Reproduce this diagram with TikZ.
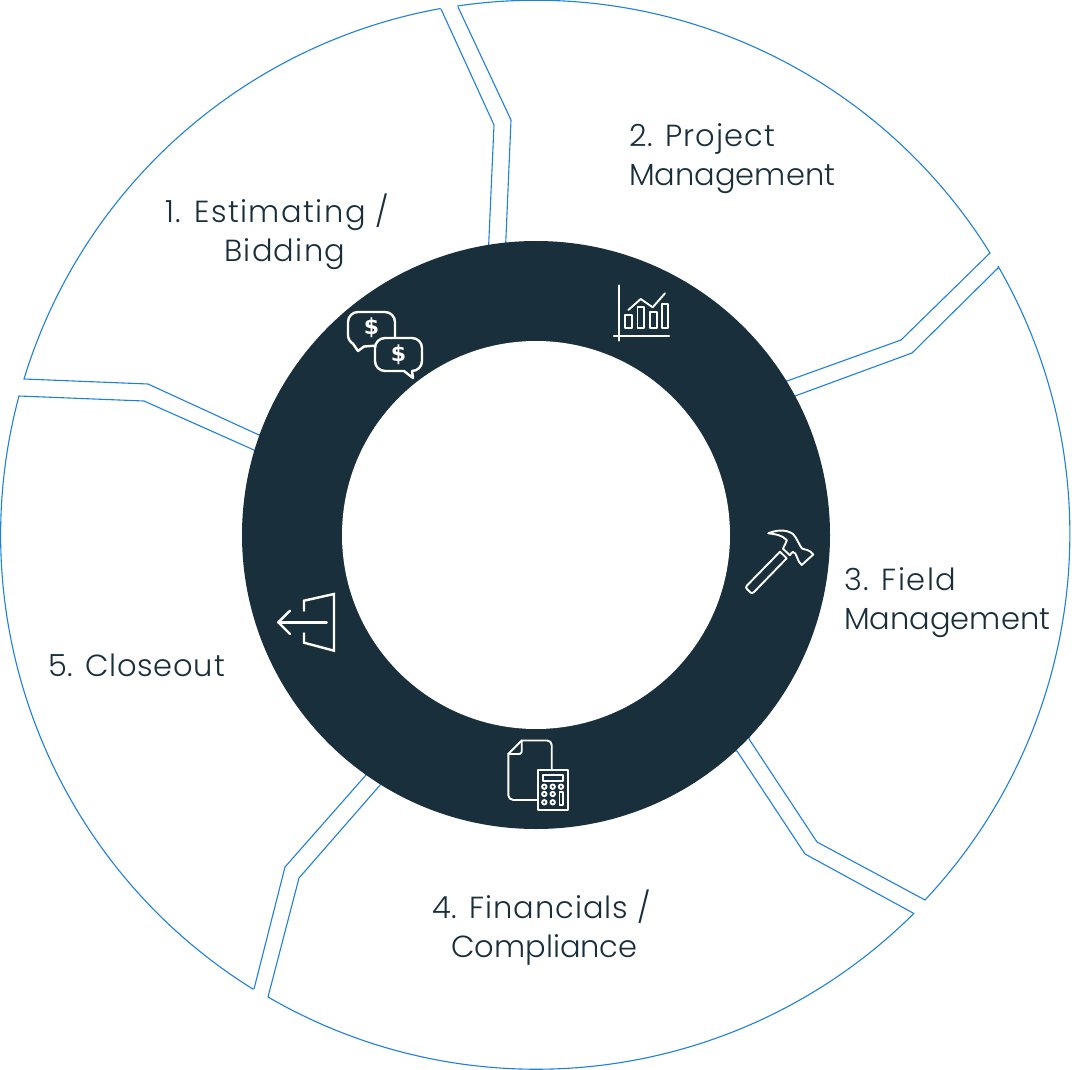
\documentclass[tikz,border=0pt]{standalone}
\usepackage{fontspec}
\setmainfont{Poppins Light}
\newfontfamily\dollarfont{DejaVu Sans Bold}
\newcommand{\lsp}[1]{\addfontfeature{LetterSpace=#1}}
\definecolor{ringblue}{HTML}{1F7FE0}
\definecolor{ringdark}{HTML}{192F3B}
\tikzset{
  segline/.style={draw=ringblue,line width=1.1pt,line join=miter},
  icon/.style={draw=white,line width=2.4pt,line join=round,line cap=round},
  iconthin/.style={draw=white,line width=1.9pt,line join=round,line cap=round},
  steplabel/.style={text=ringdark,font=\fontsize{30.5}{39}\selectfont,align=left,anchor=west,inner sep=0pt},
  dollar/.style={text=white,font=\dollarfont\fontsize{22}{22}\selectfont,inner sep=0pt}
}
\begin{document}
\begin{tikzpicture}[x=1pt,y=-1pt]
\useasboundingbox (0,0) rectangle (1072,1070);
\coordinate (c) at (536,535);
% segments
\draw[segline] (441,9) -- (494,125) -- (488,260) -- (259,435) -- (148,384) -- (24,379) arc[start angle=-163.05,end angle=-100.24,radius=535];
\draw[segline] (458,7) -- (511,120) -- (505,260) -- (787,381) -- (901,340) -- (990,253) arc[start angle=-31.84,end angle=-98.4,radius=535];
\draw[segline] (999,267) -- (912,353) -- (795,396) -- (749,739) -- (817,842) -- (925,900) arc[start angle=43.18,end angle=-30.06,radius=535];
\draw[segline] (913,913) -- (805,854) -- (737,751) -- (381,784) -- (299,878) -- (268,997) arc[start angle=120.12,end angle=45.08,radius=535];
\draw[segline] (254,989) -- (285,867) -- (366,775) -- (254,450) -- (144,401) -- (19,396) arc[start angle=195.05,end angle=121.85,radius=535];
% ring
\fill[ringdark] (c) circle[radius=294];
\fill[white] (c) circle[radius=194];
% labels
\node[steplabel] (l1) at (165,231.5) {{\lsp{4.8}1. Estimating /}\\\hspace{59pt}{\lsp{4.4}Bidding}};
\node[steplabel] (l2) at (629,159) {{\lsp{3.3}2. Project}\\Management};
\node[steplabel] (l3) at (844,602.5) {{\lsp{4.5}3. Field}\\Management};
\node[steplabel] (l4) at (432,928) {{\lsp{3}4. Financials /}\\\hspace{19pt}Compliance};
\node[steplabel] (l5) at (48,665) {{\lsp{2.4}5. Closeout}};
% dollars icon
\draw[icon] (395,338) -- (395,322) arc[start angle=0,end angle=-90,radius=10] -- (358,312) arc[start angle=-90,end angle=-180,radius=10] -- (348,335) arc[start angle=180,end angle=120,radius=10] -- (358,351) -- (364,346.5) -- (375,345.7);
\draw[icon] (375,348) arc[start angle=180,end angle=270,radius=10] -- (412,338) arc[start angle=-90,end angle=0,radius=10] -- (422,361) arc[start angle=0,end angle=90,radius=10] -- (413,378) -- (404,371) -- (385,371) arc[start angle=90,end angle=180,radius=10] -- cycle;
\node[dollar] (d1) at (371.5,328) {\$};
\node[dollar] (d2) at (398.5,355) {\$};
% chart icon
\draw[icon] (618.7,285.5) -- (618.7,340.5);
\draw[icon] (614,335.7) -- (669,335.7);
\draw[iconthin] (625,315) rectangle (631.7,328);
\draw[iconthin] (637.5,307) rectangle (644,328);
\draw[iconthin] (650,312) rectangle (656.7,328);
\draw[iconthin] (662,304) rectangle (668,328);
\draw[iconthin] (628.3,310) -- (640.7,299) -- (652.7,307.3) -- (665,293.3);
% hammer icon
\draw[iconthin] (780,551.7) -- (747,585.5) .. controls (745.5,587) and (746,588) .. (747,589) -- (750.5,592.5) .. controls (751.5,593.5) and (752.5,593.5) .. (754,592) -- (786.7,558.3) -- cycle;
\draw[iconthin] (783,548.7) -- (789.8,555.3);
\draw[iconthin] (783,548.7) .. controls (785,544) and (787,541) .. (786.7,540) .. controls (782,535) and (775,534) .. (768.3,533.3) .. controls (776,530) and (786,529) .. (793,534) .. controls (797,538) and (799,545) .. (802,548.5) .. controls (805,550) and (809,549) .. (813.3,554.5) -- (801.7,565) .. controls (797,562) and (797,552) .. (793,552) .. controls (792,552) and (791,553.5) .. (789.8,555.3);
% document and calculator icon
\draw[iconthin] (551.7,769) -- (551.7,745) arc[start angle=0,end angle=-90,radius=4.5] -- (521.7,740.5) -- (508.3,754) -- (508.3,795) arc[start angle=180,end angle=90,radius=5] -- (538,800);
\draw[iconthin] (521.7,740.5) -- (521.7,752) -- (519.7,754) -- (508.3,754);
\draw[iconthin] (538.3,770) rectangle (567.7,810);
\draw[iconthin] (542.7,775) rectangle (563.3,780.7);
\foreach \px/\py in {544.3/786.7,552.7/786.7,561/786.7,544.3/794,552.7/794,544.3/802.3,552.7/802.3}
  \draw[iconthin] (\px,\py) circle[radius=2.2];
\draw[iconthin] (559.5,792) rectangle (562.7,805);
% exit icon
\draw[icon] (326.7,622.3) -- (278.3,622.3);
\draw[icon] (290,610.7) -- (278.3,622.3) -- (290,634);
\draw[icon,line join=miter] (304,610.7) -- (304,600.7) -- (334,594) -- (334,650.7) -- (304,642.7) -- (304,633.3);
\end{tikzpicture}
\end{document}
